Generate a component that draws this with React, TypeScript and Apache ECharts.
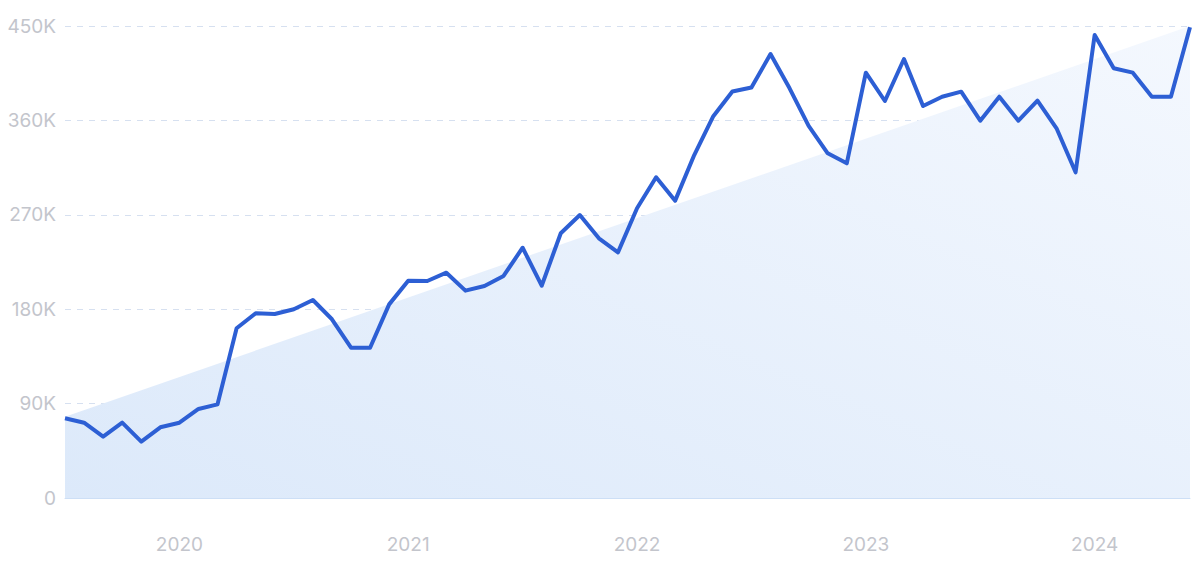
import React, { useEffect, useRef } from "react";
import * as echarts from "echarts";

const months: string[] = [
  "2019-07", "2019-08", "2019-09", "2019-10", "2019-11", "2019-12",
  "2020-01", "2020-02", "2020-03", "2020-04", "2020-05", "2020-06",
  "2020-07", "2020-08", "2020-09", "2020-10", "2020-11", "2020-12",
  "2021-01", "2021-02", "2021-03", "2021-04", "2021-05", "2021-06",
  "2021-07", "2021-08", "2021-09", "2021-10", "2021-11", "2021-12",
  "2022-01", "2022-02", "2022-03", "2022-04", "2022-05", "2022-06",
  "2022-07", "2022-08", "2022-09", "2022-10", "2022-11", "2022-12",
  "2023-01", "2023-02", "2023-03", "2023-04", "2023-05", "2023-06",
  "2023-07", "2023-08", "2023-09", "2023-10", "2023-11", "2023-12",
  "2024-01", "2024-02", "2024-03", "2024-04", "2024-05", "2024-06",
];

const searches: number[] = [
  76000, 71800, 58500, 71800, 53700, 67400,
  71800, 84900, 89300, 161800, 176100, 175400,
  179900, 188800, 170400, 143300, 143300, 184600,
  207200, 206900, 214800, 197700, 202100, 211700,
  238600, 202400, 252400, 269800, 247600, 234200,
  276200, 305800, 283500, 327000, 364000, 387500,
  391300, 423300, 390600, 354700, 328600, 319100,
  405500, 378500, 418500, 373700, 382600, 387400,
  359700, 382600, 359700, 378800, 352500, 310500,
  441400, 409700, 405500, 382600, 382600, 448800,
];

const trendStart = 77500;
const trendEnd = 450000;

const yTicks = { min: 0, max: 450000, interval: 90000 };

export default function App() {
  const ref = useRef<HTMLDivElement>(null);

  useEffect(() => {
    document.body.style.margin = "0";
    if (!ref.current) return;
    const chart = echarts.init(ref.current, null, { renderer: "svg" });
    const trendData = [
      [months[0], trendStart],
      [months[months.length - 1], trendEnd],
    ];
    chart.setOption({
      animation: false,
      backgroundColor: "#ffffff",
      grid: { left: 65, right: 10, top: 26, bottom: 65 },
      xAxis: {
        type: "category",
        data: months,
        boundaryGap: false,
        axisLine: { show: true, lineStyle: { color: "#cddff6", width: 1 } },
        axisTick: { show: false },
        splitLine: { show: false },
        axisLabel: {
          interval: (idx: number) => months[idx].endsWith("-01"),
          formatter: (v: string) => v.slice(0, 4),
          color: "#c3c5cc",
          fontSize: 19,
          fontFamily: "Inter",
          margin: 37,
        },
      },
      yAxis: {
        type: "value",
        min: yTicks.min,
        max: yTicks.max,
        interval: yTicks.interval,
        axisLine: { show: false },
        axisTick: { show: false },
        splitLine: {
          show: true,
          lineStyle: { color: "#d6e0f0", type: [6, 6], width: 1 },
        },
        axisLabel: {
          formatter: (v: number) => (v === 0 ? "0" : v / 1000 + "K"),
          color: "#c3c5cc",
          fontSize: 19,
          fontFamily: "Inter",
          margin: 9,
        },
      },
      series: [
        {
          type: "line",
          data: trendData,
          symbol: "none",
          silent: true,
          lineStyle: { width: 0 },
          areaStyle: {
            opacity: 1,
            color: new echarts.graphic.LinearGradient(0, 1, 1, 0, [
              { offset: 0, color: "#dce9fa" },
              { offset: 1, color: "#f4f8fe" },
            ]),
          },
          z: 1,
        },
        {
          type: "line",
          data: searches,
          symbol: "none",
          lineStyle: { color: "#2d5fd4", width: 4, join: "round" },
          z: 3,
        },
      ],
    });
    return () => chart.dispose();
  }, []);

  return <div ref={ref} style={{ width: 1200, height: 563 }} />;
}
